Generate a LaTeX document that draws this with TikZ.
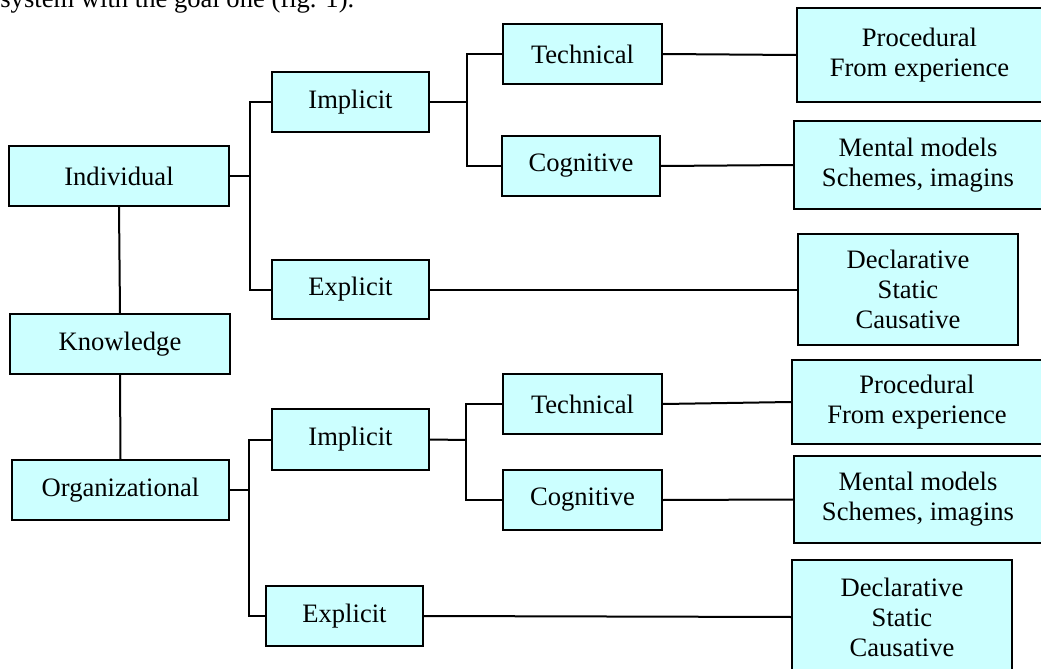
\documentclass[tikz,border=0pt]{standalone}
\usepackage{fontspec}
\setmainfont{Liberation Serif}
\definecolor{boxfill}{HTML}{CCFFFF}
\tikzset{
  kbox/.style={draw=black, fill=boxfill, line width=1pt, inner sep=0pt, align=center,
    font=\fontsize{13.3}{15}\selectfont},
  conn/.style={line width=1pt, line join=miter}
}
\begin{document}
\begin{tikzpicture}[x=0.5pt,y=-0.5pt]
\useasboundingbox (0,0) rectangle (1041,669);
\clip (0,0) rectangle (1041,669);
% cut-off line of running text at the top
\node[anchor=base west, inner sep=0pt, font=\fontsize{13.3}{15}\selectfont] (toptext) at (0,7.5) {system with the goal one (fig. 1).};
% level 0/1
\node[kbox, minimum width=110pt, minimum height=30pt] (ind) at (119,176) {Individual};
\node[kbox, minimum width=110pt, minimum height=30pt] (know) at (120,344) {Knowledge};
\node[kbox, minimum width=108.5pt, minimum height=30pt] (org) at (120.5,490) {Organizational};
% level 2
\node[kbox, minimum width=78.5pt, minimum height=30pt] (imp1) at (350.5,102) {Implicit};
\node[kbox, minimum width=78.5pt, minimum height=29.5pt] (exp1) at (350.5,289.5) {Explicit};
\node[kbox, minimum width=78.5pt, minimum height=30.5pt] (imp2) at (350.5,439.5) {Implicit};
\node[kbox, minimum width=78.5pt, minimum height=30pt] (exp2) at (344.5,616) {Explicit};
% level 3
\node[kbox, minimum width=79.5pt, minimum height=30pt] (tec1) at (582.5,54) {Technical};
\node[kbox, minimum width=79pt, minimum height=30pt] (cog1) at (581,166) {Cognitive};
\node[kbox, minimum width=79.5pt, minimum height=30pt] (tec2) at (582.5,404) {Technical};
\node[kbox, minimum width=79.5pt, minimum height=30pt] (cog2) at (582.5,500) {Cognitive};
% level 4
\node[kbox, minimum width=122.5pt, minimum height=47pt] (pro1) at (919.5,55) {Procedural\\From experience};
\node[kbox, minimum width=124pt, minimum height=44pt] (men1) at (918,165) {Mental models\\Schemes, imagins};
\node[kbox, minimum width=110pt, minimum height=55.5pt] (dec1) at (908,289.5) {Declarative\\Static\\Causative};
\node[kbox, minimum width=125pt, minimum height=42pt] (pro2) at (917,402) {Procedural\\From experience};
\node[kbox, minimum width=124pt, minimum height=43.5pt] (men2) at (918,499.5) {Mental models\\Schemes, imagins};
\node[kbox, minimum width=110pt, minimum height=57pt] (dec2) at (902,617) {Declarative\\Static\\Causative};
% bracket junctions
\coordinate (b1) at (250,176);
\coordinate (b2) at (249,490);
\coordinate (s1) at (467,102);
\coordinate (s2) at (466,440);
% connectors
\draw[conn] (ind.south) -- (know.north);
\draw[conn] (know.south) -- (org.north);
\draw[conn] (ind.east) -- (b1);
\draw[conn] (imp1.west) -| (b1) |- (exp1.west);
\draw[conn] (org.east) -- (b2);
\draw[conn] (imp2.west) -| (b2) |- (exp2.west);
\draw[conn] (imp1.east) -- (s1);
\draw[conn] (tec1.west) -| (s1) |- (cog1.west);
\draw[conn] (imp2.east) -- (s2);
\draw[conn] (tec2.west) -| (s2) |- (cog2.west);
\draw[conn] (tec1.east) -- (pro1.west);
\draw[conn] (cog1.east) -- (men1.west);
\draw[conn] (exp1.east) -- (dec1.west);
\draw[conn] (tec2.east) -- (pro2.west);
\draw[conn] (cog2.east) -- (men2.west);
\draw[conn] (exp2.east) -- (dec2.west);
\end{tikzpicture}
\end{document}
